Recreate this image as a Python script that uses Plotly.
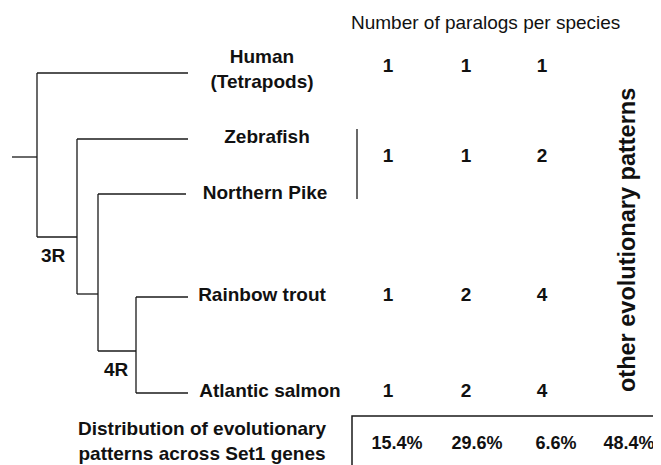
import plotly.graph_objects as go

# ---- data ----
species = ["Human<br>(Tetrapods)", "Zebrafish", "Northern Pike", "Rainbow trout", "Atlantic salmon"]
species_x = [262, 267, 265, 262, 270]
species_y = [71, 138, 194, 296, 392]

paralog_rows_y = [67, 157, 296, 392]
paralog_cols_x = [388, 466, 542]
paralogs = [
    [1, 1, 1],   # Human
    [1, 1, 2],   # Zebrafish / Northern Pike
    [1, 2, 4],   # Rainbow trout
    [1, 2, 4],   # Atlantic salmon
]

pct_labels = ["15.4%", "29.6%", "6.6%", "48.4%"]
pct_x = [397, 477, 556, 629]
pct_y = 444

# tree branches: horizontal (y, x0, x1) and vertical (x, y0, y1)
h_branches = [
    (157, 12, 37),     # root stub
    (73, 37, 188),     # Human
    (237, 37, 77),     # 3R node
    (139, 77, 188),    # Zebrafish
    (294, 77, 98),
    (194, 98, 186),    # Northern Pike
    (351, 98, 136),    # 4R node
    (297, 136, 188),   # Rainbow trout
    (393, 136, 188),   # Atlantic salmon
]
v_branches = [
    (37, 73, 237),
    (77, 139, 294),
    (98, 194, 351),
    (136, 297, 393),
    (357, 129, 199),   # bracket Zebrafish/Pike
]

LINE = "#1a1a1a"
FONT = "Liberation Sans, Arial, Helvetica, sans-serif"

fig = go.Figure()

xs, ys = [], []
for y, x0, x1 in h_branches:
    xs += [x0, x1, None]
    ys += [y, y, None]
for x, y0, y1 in v_branches:
    xs += [x, x, None]
    ys += [y0, y1, None]
fig.add_trace(go.Scatter(x=xs, y=ys, mode="lines",
                         line=dict(color=LINE, width=1.3),
                         hoverinfo="skip", showlegend=False))

# bottom box (top and left edges)
fig.add_trace(go.Scatter(x=[352, 352, 661], y=[465, 416, 416], mode="lines",
                         line=dict(color=LINE, width=1.5),
                         hoverinfo="skip", showlegend=False))

# species labels
fig.add_trace(go.Scatter(x=species_x, y=species_y, mode="text",
                         text=[f"<b>{s}</b>" for s in species],
                         textfont=dict(family=FONT, size=19, color="#111"),
                         textposition="middle center",
                         hoverinfo="skip", showlegend=False))

# paralog numbers
px, py, pt = [], [], []
for ry, row in zip(paralog_rows_y, paralogs):
    for cx, v in zip(paralog_cols_x, row):
        px.append(cx); py.append(ry); pt.append(f"<b>{v}</b>")
fig.add_trace(go.Scatter(x=px, y=py, mode="text", text=pt,
                         textfont=dict(family=FONT, size=19, color="#111"),
                         hoverinfo="skip", showlegend=False))

# percentages
fig.add_trace(go.Scatter(x=pct_x, y=[pct_y] * len(pct_x), mode="text",
                         text=[f"<b>{p}</b>" for p in pct_labels],
                         textfont=dict(family=FONT, size=18, color="#111"),
                         hoverinfo="skip", showlegend=False))

annotations = [
    dict(x=485, y=22, text="Number of paralogs per species", showarrow=False,
         font=dict(family=FONT, size=19, color="#111")),
    dict(x=627, y=240, text="<b>other evolutionary patterns</b>", showarrow=False,
         textangle=-90, font=dict(family=FONT, size=23.5, color="#111")),
    dict(x=53, y=255, text="<b>3R</b>", showarrow=False,
         font=dict(family=FONT, size=19, color="#111")),
    dict(x=116, y=369, text="<b>4R</b>", showarrow=False,
         font=dict(family=FONT, size=19, color="#111")),
    dict(x=202, y=441, text="<b>Distribution of evolutionary<br>patterns across Set1 genes</b>",
         showarrow=False, font=dict(family=FONT, size=19, color="#111")),
]

fig.update_layout(
    width=653, height=457,
    margin=dict(l=0, r=0, t=0, b=0),
    paper_bgcolor="white", plot_bgcolor="white",
    xaxis=dict(range=[8, 661], visible=False, fixedrange=True),
    yaxis=dict(range=[465, 8], visible=False, fixedrange=True),
    annotations=annotations,
)

fig.write_html("out.html")
